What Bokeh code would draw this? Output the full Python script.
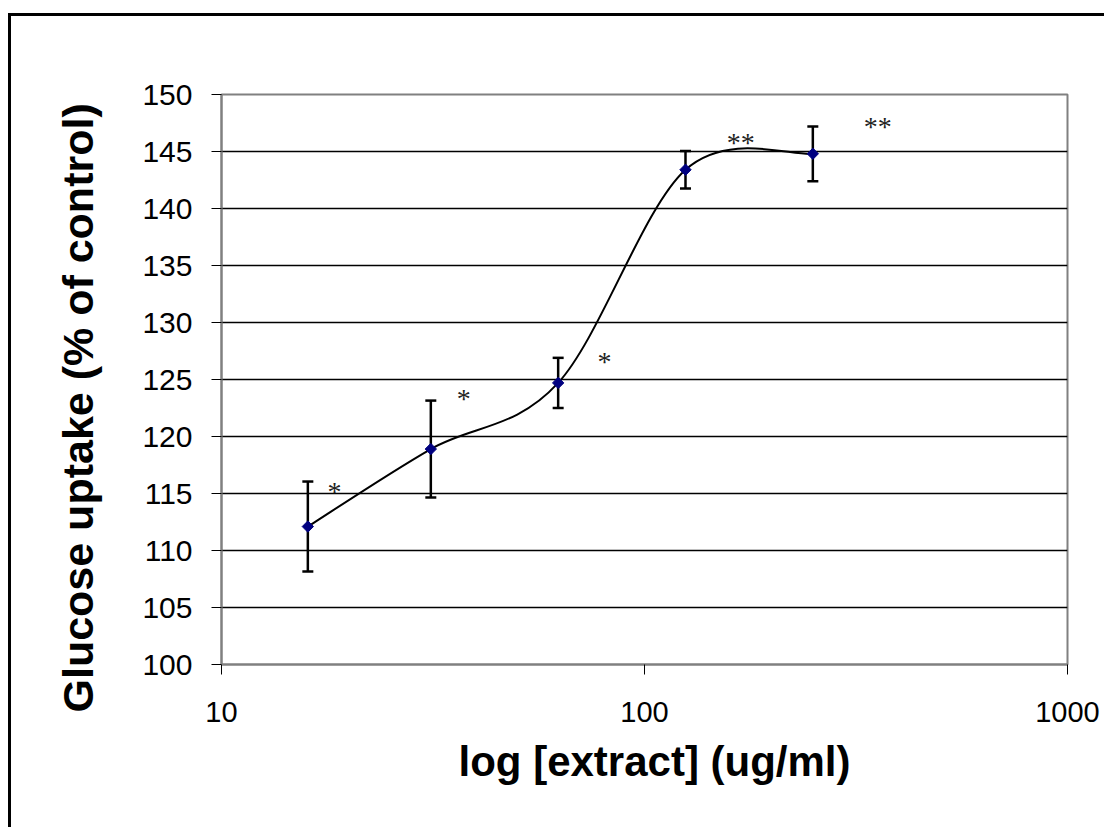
import numpy as np
from bokeh.plotting import figure
from bokeh.models import (ColumnDataSource, Whisker, TeeHead, Title, FixedTicker,
                          BasicTickFormatter, Range1d)
from bokeh.core.properties import value
from bokeh.embed import file_html
from bokeh.resources import INLINE

# ---- data ----
conc = [16.0, 31.25, 62.5, 125.0, 250.0]          # ug/ml
uptake = [112.1, 118.9, 124.7, 143.4, 144.8]       # % of control
err = [3.95, 4.25, 2.2, 1.65, 2.4]                 # +/- error
star_x = [18.5, 37.4, 80.4, 168.8, 356.0]
star_y = [115.5, 123.6, 126.9, 146.1, 147.5]
star_text = ["*", "*", "*", "**", "**"]
y_ticks = [100, 105, 110, 115, 120, 125, 130, 135, 140, 145, 150]
x_ticks = [10, 100, 1000]
x_title = "log [extract] (ug/ml)"
y_title = "Glucose uptake (% of control)"

p = figure(width=1096, height=814, x_axis_type="log",
           x_range=Range1d(10, 1000), y_range=Range1d(100, 150),
           output_backend="svg", toolbar_location=None,
           min_border_left=210, min_border_right=40,
           min_border_top=78, min_border_bottom=166,
           styles={"border-left": "3px solid black", "border-top": "3px solid black",
                   "margin-top": "13px", "margin-left": "8px"})

p.background_fill_color = "white"
p.border_fill_color = "white"
p.outline_line_color = "#808080"
p.outline_line_width = 2

# grid
p.xgrid.visible = False
p.ygrid.grid_line_color = "black"
p.ygrid.grid_line_width = 1.3
p.ygrid.ticker = FixedTicker(ticks=y_ticks)

# axes
for ax in (p.xaxis[0], p.yaxis[0]):
    ax.axis_line_color = "#808080"
    ax.axis_line_width = 2
    ax.major_tick_line_color = "black"
    ax.major_tick_line_width = 1
    ax.major_tick_out = 10
    ax.major_tick_in = 0
    ax.minor_tick_line_color = None
    ax.major_label_text_font = "Liberation Sans"
    ax.major_label_text_color = "black"

p.yaxis.major_label_text_font_size = "30px"
p.xaxis.major_label_text_font_size = "29px"
p.yaxis.ticker = FixedTicker(ticks=y_ticks)
p.yaxis.major_label_standoff = 19
p.xaxis.ticker = FixedTicker(ticks=x_ticks)
p.xaxis.formatter = BasicTickFormatter(use_scientific=False)
p.xaxis.major_label_standoff = 27

# smoothed line (Excel-like Catmull-Rom as cubic Bezier)
lx = np.log10(conc)
yy = np.array(uptake)
n = len(lx)
ext_x = np.concatenate([[lx[0]], lx, [lx[-1]]])
ext_y = np.concatenate([[yy[0]], yy, [yy[-1]]])
x0, y0, x1, y1, cx0, cy0, cx1, cy1 = [], [], [], [], [], [], [], []
for i in range(n - 1):
    a, b = i + 1, i + 2
    tx0 = (ext_x[a + 1] - ext_x[a - 1]) / 6.0
    ty0 = (ext_y[a + 1] - ext_y[a - 1]) / 6.0
    tx1 = (ext_x[b + 1] - ext_x[b - 1]) / 6.0
    ty1 = (ext_y[b + 1] - ext_y[b - 1]) / 6.0
    x0.append(10 ** ext_x[a]); y0.append(ext_y[a])
    x1.append(10 ** ext_x[b]); y1.append(ext_y[b])
    cx0.append(10 ** (ext_x[a] + tx0)); cy0.append(ext_y[a] + ty0)
    cx1.append(10 ** (ext_x[b] - tx1)); cy1.append(ext_y[b] - ty1)
bez = ColumnDataSource(dict(x0=x0, y0=y0, x1=x1, y1=y1, cx0=cx0, cy0=cy0, cx1=cx1, cy1=cy1))
p.bezier(x0="x0", y0="y0", x1="x1", y1="y1", cx0="cx0", cy0="cy0", cx1="cx1", cy1="cy1",
         source=bez, line_color="black", line_width=2)

# error bars
src = ColumnDataSource(dict(x=conc, y=uptake,
                            upper=[u + e for u, e in zip(uptake, err)],
                            lower=[u - e for u, e in zip(uptake, err)]))
wh = Whisker(base="x", upper="upper", lower="lower", source=src, dimension="height",
             line_color="black", line_width=2.5,
             upper_head=TeeHead(size=11, line_color="black", line_width=2.5),
             lower_head=TeeHead(size=11, line_color="black", line_width=2.5))
p.add_layout(wh)

# markers
p.scatter("x", "y", source=src, marker="square", angle=np.pi / 4, size=8,
          fill_color="#000080", line_color="#000080")

# significance stars
stars = ColumnDataSource(dict(x=star_x, y=[v - 0.3 for v in star_y], t=star_text))
p.text(x="x", y="y", text="t", source=stars, text_font=value("Liberation Serif"),
       text_font_size=value("28px"), text_align="center", text_baseline="middle",
       text_color="#222222")

# axis titles
p.add_layout(Title(text=x_title, align="left", offset=237, vertical_align="top",
                   standoff=26, text_font="Liberation Sans", text_font_style="bold",
                   text_font_size="42px", text_color="black"), "below")
p.add_layout(Title(text=y_title, align="left", offset=-48, vertical_align="bottom",
                   standoff=76, text_font="Liberation Sans", text_font_style="bold",
                   text_font_size="43px", text_color="black"), "left")

open("out.html", "w").write(file_html(p, INLINE))
